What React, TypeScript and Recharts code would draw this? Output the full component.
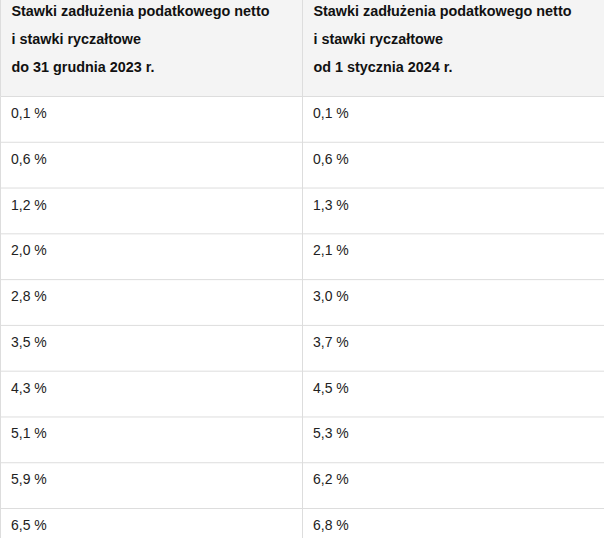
import React from 'react';
import { ScatterChart, Scatter, XAxis, YAxis, CartesianGrid } from 'recharts';

// column headers (one array of lines per column)
const headerLines = [
  ['Stawki zadłużenia podatkowego netto', 'i stawki ryczałtowe', 'do 31 grudnia 2023 r.'],
  ['Stawki zadłużenia podatkowego netto', 'i stawki ryczałtowe', 'od 1 stycznia 2024 r.'],
];
const ratesUntil2023 = [0.1, 0.6, 1.2, 2.0, 2.8, 3.5, 4.3, 5.1, 5.9, 6.5];
const ratesFrom2024 = [0.1, 0.6, 1.3, 2.1, 3.0, 3.7, 4.5, 5.3, 6.2, 6.8];

const columnTicks = [0, 1, 2];
const rowTicks = [0, 1, 2, 3, 4, 5, 6, 7, 8, 9, 10];

const HEADER_H = 96;
const ROW_H = 45.78;
const COL_W = 302;
const FONT = '"Liberation Sans", Arial, Helvetica, sans-serif';
const LINE = '#dddddd';

const toRows = (values: number[], col: number) =>
  values.map((value, row) => ({ col, row, value }));

const fmt = (v: number) => v.toFixed(1).replace('.', ',') + ' %';

const RateCell = (props: any) => {
  const { cx, cy, payload } = props;
  if (cx == null || cy == null) return null;
  return (
    <text x={cx + 10.5} y={cy + 21.5} fontSize={14} fontFamily={FONT} fill="#222">
      {fmt(payload.value)}
    </text>
  );
};

const HeaderTick = (props: any) => {
  const { x, y, payload } = props;
  const lines = headerLines[payload.value];
  if (!lines) return null;
  const top = y - HEADER_H;
  return (
    <g>
      <rect x={x} y={top - 0.5} width={COL_W} height={HEADER_H} fill="#f4f4f4" />
      <line x1={x} x2={x} y1={top - 0.5} y2={y} stroke={LINE} />
      <line x1={x + COL_W} x2={x + COL_W} y1={top - 0.5} y2={y} stroke={LINE} />
      <text fontSize={14.4} fontWeight={700} fontFamily={FONT} fill="#111">
        {lines.map((l, i) => (
          <tspan key={i} x={x + 11} y={top + 16 + i * 28}>
            {l}
          </tspan>
        ))}
      </text>
    </g>
  );
};

export default function App() {
  const height = 0.5 + HEADER_H + rowTicks[rowTicks.length - 1] * ROW_H;
  return (
    <div
      style={{
        position: 'absolute',
        left: 0,
        top: 0,
        width: 604,
        height: 538,
        overflow: 'hidden',
        background: '#fff',
      }}
    >
      <ScatterChart
        width={605}
        height={height}
        margin={{ top: 0.5, right: 0.5, bottom: 0, left: 0.5 }}
      >
        <CartesianGrid stroke={LINE} strokeDasharray="" />
        <XAxis
          type="number"
          dataKey="col"
          orientation="top"
          domain={[0, 2]}
          ticks={columnTicks}
          interval={0}
          height={HEADER_H}
          axisLine={false}
          tickLine={false}
          tickSize={0}
          tickMargin={0}
          tick={HeaderTick}
        />
        <YAxis
          type="number"
          dataKey="row"
          domain={[0, 10]}
          ticks={rowTicks}
          interval={0}
          reversed
          hide
        />
        <Scatter data={toRows(ratesUntil2023, 0)} shape={RateCell} isAnimationActive={false} />
        <Scatter data={toRows(ratesFrom2024, 1)} shape={RateCell} isAnimationActive={false} />
      </ScatterChart>
    </div>
  );
}
